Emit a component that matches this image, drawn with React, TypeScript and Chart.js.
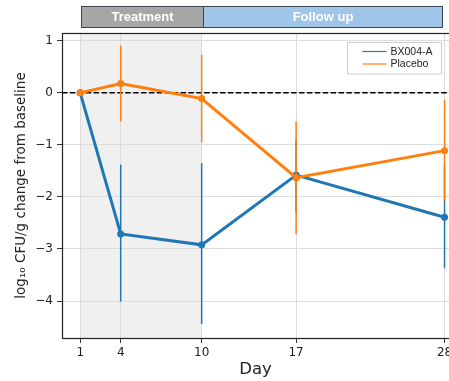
import React, { useEffect, useRef } from "react";
import { Chart, registerables } from "chart.js";

Chart.register(...registerables);

const days = [1, 4, 10, 17, 28];
const bxMean = [0, -2.71, -2.92, -1.58, -2.39];
const bxLow = [0, -4.01, -4.44, -2.3, -3.37];
const bxHigh = [0, -1.38, -1.35, -0.9, -1.42];
const plMean = [0, 0.18, -0.11, -1.63, -1.11];
const plLow = [0, -0.55, -0.95, -2.71, -2.07];
const plHigh = [0, 0.91, 0.73, -0.55, -0.13];
const yTicks = [-4, -3, -2, -1, 0, 1];
const xTicks = [1, 4, 10, 17, 28];
const seriesNames = ["BX004-A", "Placebo"];
const phases = ["Treatment", "Follow up"];
const phaseStart = [1.07, 10.12];
const phaseEnd = [10.12, 27.78];
const shadeRange = [1, 10];

const BLUE = "#1f77b4";
const ORANGE = "#ff7f0e";
const errLow = [bxLow, plLow];
const errHigh = [bxHigh, plHigh];
const colors = [BLUE, ORANGE];

const minus = (s: string) => s.replace("-", "\u2212");

const customPlugin = {
  id: "custom",
  beforeDraw(chart: any) {
    const { ctx, chartArea: a, scales } = chart;
    const x = scales.x;
    ctx.save();
    const x0 = x.getPixelForValue(shadeRange[0]);
    const x1 = x.getPixelForValue(shadeRange[1]);
    ctx.fillStyle = "#f0f0f0";
    ctx.fillRect(x0, a.top, x1 - x0, a.bottom - a.top);
    // header bar
    const fills = ["#a6a6a6", "#9fc5e8"];
    for (let i = 0; i < phases.length; i++) {
      const px0 = Math.round(x.getPixelForValue(phaseStart[i])) + 0.5;
      const px1 = Math.round(x.getPixelForValue(phaseEnd[i])) + 0.5;
      ctx.fillStyle = fills[i];
      ctx.fillRect(px0, 6.5, px1 - px0, 21);
      ctx.strokeStyle = "#3c4650";
      ctx.lineWidth = 1;
      ctx.strokeRect(px0, 6.5, px1 - px0, 21);
      ctx.fillStyle = "#ffffff";
      ctx.font = "bold 13px 'Liberation Sans', Arial, sans-serif";
      ctx.textAlign = "center";
      ctx.textBaseline = "middle";
      ctx.fillText(phases[i], (px0 + px1) / 2, 17.5);
    }
    ctx.restore();
  },
  beforeDatasetsDraw(chart: any) {
    const { ctx, chartArea: a, scales } = chart;
    const y0 = scales.y.getPixelForValue(0);
    ctx.save();
    ctx.strokeStyle = "#000";
    ctx.lineWidth = 1.5;
    ctx.setLineDash([5.5, 2.4]);
    ctx.beginPath();
    ctx.moveTo(a.left, y0);
    ctx.lineTo(a.right, y0);
    ctx.stroke();
    ctx.restore();
  },
  beforeDatasetDraw(chart: any, args: any) {
    const i = args.index;
    const { ctx, scales } = chart;
    ctx.save();
    ctx.strokeStyle = colors[i];
    ctx.lineWidth = 1.5;
    for (let k = 0; k < days.length; k++) {
      const px = scales.x.getPixelForValue(days[k]);
      const lo = scales.y.getPixelForValue(errLow[i][k]);
      const hi = scales.y.getPixelForValue(errHigh[i][k]);
      if (Math.abs(lo - hi) < 0.5) continue;
      ctx.beginPath();
      ctx.moveTo(px, lo);
      ctx.lineTo(px, hi);
      ctx.stroke();
    }
    ctx.restore();
  },
  afterDraw(chart: any) {
    const { ctx, chartArea: a } = chart;
    ctx.save();
    ctx.strokeStyle = "#222";
    ctx.lineWidth = 1.2;
    ctx.strokeRect(a.left + 0.5, a.top + 0.5, a.right - a.left + 5, a.bottom - a.top);
    // legend
    const lx = 347.5, ly = 42.5, lw = 94, lh = 31.5;
    ctx.fillStyle = "rgba(255,255,255,0.85)";
    ctx.fillRect(lx, ly, lw, lh);
    ctx.strokeStyle = "#cccccc";
    ctx.lineWidth = 1;
    ctx.strokeRect(lx, ly, lw, lh);
    ctx.font = "10.5px 'Liberation Sans', Arial, sans-serif";
    ctx.textBaseline = "middle";
    ctx.textAlign = "left";
    for (let i = 0; i < seriesNames.length; i++) {
      const yy = 51.5 + i * 12.5;
      ctx.strokeStyle = colors[i];
      ctx.lineWidth = 1.2;
      ctx.beginPath();
      ctx.moveTo(362.5, yy);
      ctx.lineTo(386.5, yy);
      ctx.stroke();
      ctx.fillStyle = "#222";
      ctx.fillText(seriesNames[i], 390.5, yy + 0.5);
    }
    ctx.restore();
  },
};

export default function App() {
  const ref = useRef<HTMLCanvasElement | null>(null);
  useEffect(() => {
    if (!ref.current) return;
    const tickFont = { family: "'DejaVu Sans', sans-serif", size: 12 };
    const chart = new Chart(ref.current, {
      type: "line",
      data: {
        datasets: [
          {
            label: seriesNames[0],
            data: days.map((d, i) => ({ x: d, y: bxMean[i] })),
            borderColor: BLUE,
            backgroundColor: BLUE,
            borderWidth: 3,
            pointRadius: 3.5,
            pointBorderWidth: 0,
            order: 1,
          },
          {
            label: seriesNames[1],
            data: days.map((d, i) => ({ x: d, y: plMean[i] })),
            borderColor: ORANGE,
            backgroundColor: ORANGE,
            borderWidth: 3,
            pointRadius: 3.5,
            pointBorderWidth: 0,
            order: 0,
          },
        ],
      },
      options: {
        animation: false,
        responsive: false,
        devicePixelRatio: 1,
        layout: { autoPadding: false, padding: { top: 33, left: 0, right: 0, bottom: 0 } },
        plugins: { legend: { display: false }, tooltip: { enabled: false } },
        scales: {
          x: {
            type: "linear",
            min: -0.35,
            max: 28.33,
            afterBuildTicks: (s: any) => {
              s.ticks = xTicks.map((v) => ({ value: v }));
            },
            afterFit: (s: any) => {
              s.height = 43;
              s.paddingLeft = 0;
              s.paddingRight = 0;
            },
            grid: { color: "#dcdcdc", lineWidth: 1, tickLength: 5, tickColor: "#333" },
            border: { display: false },
            ticks: {
              font: tickFont,
              color: "#222",
              padding: 3,
              maxRotation: 0,
              autoSkip: false,
              callback: (v: any) => String(v),
            },
            title: {
              display: true,
              text: "Day",
              color: "#222",
              font: { family: "'DejaVu Sans', sans-serif", size: 16.5 },
              padding: { top: 0, bottom: 1 },
            },
          },
          y: {
            type: "linear",
            min: -4.71,
            max: 1.15,
            afterBuildTicks: (s: any) => {
              s.ticks = yTicks.map((v) => ({ value: v }));
            },
            afterFit: (s: any) => {
              s.width = 62;
              s.paddingTop = 0;
              s.paddingBottom = 0;
            },
            grid: { color: "#dcdcdc", lineWidth: 1, tickLength: 5, tickColor: "#333" },
            border: { display: false },
            ticks: {
              font: tickFont,
              color: "#222",
              padding: 4,
              autoSkip: false,
              callback: (v: any) => minus(String(v)),
            },
            title: {
              display: true,
              text: "log\u2081\u2080 CFU/g change from baseline",
              color: "#222",
              font: { family: "'DejaVu Sans', sans-serif", size: 13.5 },
              padding: { top: 13, bottom: 0 },
            },
          },
        },
      },
      plugins: [customPlugin],
    } as any);
    return () => chart.destroy();
  }, []);
  return (
    <div style={{ position: "absolute", left: 0, top: 0, width: 449, height: 381, background: "#fff" }}>
      <canvas ref={ref} width={449} height={381} />
    </div>
  );
}
